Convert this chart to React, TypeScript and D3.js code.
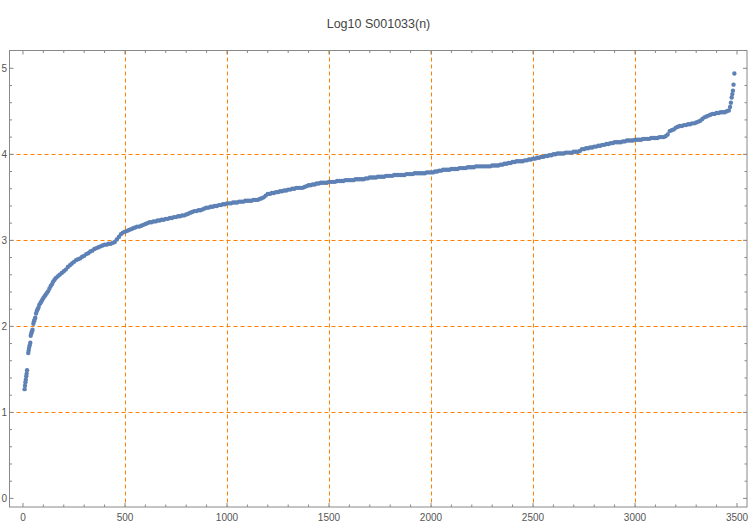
import React from "react";
import * as d3 from "d3";

// ListPlot of Log10 S001033(n); x is the term index n
const title = "Log10 S001033(n)";

// first terms: separate short dashes of dots
const earlyN = [
  8, 10, 12, 14, 16, 18, 20,
  26, 28, 30, 33, 36,
  38, 41, 44, 47, 51, 54, 57, 60, 64, 68, 72, 76, 80, 85, 90, 95, 100, 106, 112, 118, 124,
  130, 136, 142, 148, 154, 160, 170, 180, 190, 200, 210, 220, 230, 240, 250, 260, 270,
  280, 290, 300, 310, 320, 330, 340, 350, 360, 370, 380, 390, 400, 410, 420, 430, 440,
  450, 460, 470, 480, 490,
];
const earlyV = [
  1.27, 1.31, 1.35, 1.38, 1.42, 1.45, 1.49,
  1.69, 1.72, 1.75, 1.78, 1.81,
  1.89, 1.92, 1.94, 1.96, 2.03, 2.06, 2.08, 2.1, 2.15, 2.18, 2.2, 2.22, 2.25, 2.27, 2.29, 2.31, 2.33, 2.35, 2.37, 2.39, 2.41,
  2.44, 2.47, 2.49, 2.52, 2.54, 2.56, 2.58, 2.6, 2.62, 2.64, 2.66, 2.69, 2.71, 2.73, 2.75, 2.77, 2.78,
  2.79, 2.81, 2.82, 2.84, 2.85, 2.87, 2.88, 2.9, 2.91, 2.92, 2.93, 2.94, 2.95, 2.95, 2.96, 2.96, 2.97,
  2.98, 3.01, 3.04, 3.07, 3.09,
];

// every 10th term from n = 500 to n = 3460
const mainStart = 500;
const mainStep = 10;
const mainV = [
  3.1, 3.11, 3.12, 3.13, 3.14, 3.15, 3.16, 3.16, 3.17, 3.18,
  3.19, 3.2, 3.21, 3.21, 3.22, 3.22, 3.23, 3.23, 3.24, 3.24,
  3.25, 3.25, 3.26, 3.26, 3.27, 3.27, 3.28, 3.28, 3.29, 3.29,
  3.3, 3.31, 3.32, 3.33, 3.34, 3.34, 3.35, 3.35, 3.36, 3.37,
  3.38, 3.38, 3.39, 3.39, 3.4, 3.4, 3.41, 3.41, 3.42, 3.42,
  3.43, 3.43, 3.43, 3.44, 3.44, 3.44, 3.45, 3.45, 3.45, 3.46,
  3.46, 3.46, 3.46, 3.47, 3.47, 3.47, 3.48, 3.49, 3.5, 3.52,
  3.54, 3.54, 3.55, 3.55, 3.56, 3.56, 3.57, 3.57, 3.58, 3.58,
  3.59, 3.59, 3.6, 3.6, 3.61, 3.61, 3.61, 3.61, 3.62, 3.63,
  3.64, 3.64, 3.65, 3.65, 3.66, 3.66, 3.67, 3.67, 3.67, 3.67,
  3.68, 3.68, 3.68, 3.68, 3.69, 3.69, 3.69, 3.69, 3.7, 3.7,
  3.7, 3.7, 3.7, 3.71, 3.71, 3.71, 3.71, 3.71, 3.72, 3.72,
  3.73, 3.73, 3.73, 3.73, 3.74, 3.74, 3.74, 3.74, 3.75, 3.75,
  3.75, 3.75, 3.76, 3.76, 3.76, 3.76, 3.76, 3.76, 3.77, 3.77,
  3.77, 3.77, 3.78, 3.78, 3.78, 3.78, 3.78, 3.78, 3.79, 3.79,
  3.79, 3.79, 3.8, 3.8, 3.81, 3.81, 3.82, 3.82, 3.82, 3.82,
  3.83, 3.83, 3.83, 3.83, 3.84, 3.84, 3.84, 3.84, 3.85, 3.85,
  3.85, 3.85, 3.86, 3.86, 3.86, 3.86, 3.86, 3.86, 3.86, 3.86,
  3.87, 3.87, 3.87, 3.87, 3.88, 3.88, 3.89, 3.89, 3.9, 3.9,
  3.91, 3.91, 3.92, 3.92, 3.92, 3.92, 3.93, 3.93, 3.94, 3.94,
  3.95, 3.95, 3.96, 3.96, 3.97, 3.97, 3.98, 3.98, 3.99, 3.99,
  4.0, 4.0, 4.01, 4.01, 4.01, 4.01, 4.02, 4.02, 4.02, 4.02,
  4.03, 4.03, 4.03, 4.04, 4.06, 4.06, 4.07, 4.07, 4.08, 4.08,
  4.09, 4.09, 4.1, 4.1, 4.11, 4.11, 4.12, 4.12, 4.13, 4.13,
  4.14, 4.14, 4.14, 4.14, 4.15, 4.15, 4.16, 4.16, 4.16, 4.16,
  4.17, 4.17, 4.17, 4.17, 4.18, 4.18, 4.18, 4.18, 4.19, 4.19,
  4.19, 4.19, 4.2, 4.2, 4.2, 4.21, 4.23, 4.27, 4.28, 4.29,
  4.31, 4.32, 4.33, 4.33, 4.34, 4.34, 4.35, 4.35, 4.36, 4.36,
  4.37, 4.38, 4.39, 4.41, 4.43, 4.44, 4.45, 4.46, 4.47, 4.47,
  4.48, 4.48, 4.49, 4.49, 4.49, 4.5, 4.51,
];

// last few terms shoot up
const tailN = [3466, 3470, 3474, 3477, 3480, 3483, 3487];
const tailV = [4.55, 4.6, 4.66, 4.7, 4.74, 4.81, 4.94];

const xMajor = [0, 500, 1000, 1500, 2000, 2500, 3000, 3500];
const yMajor = [0, 1, 2, 3, 4, 5];
const xGrid = [500, 1000, 1500, 2000, 2500, 3000];
const yGrid = [1, 2, 3, 4];

const W = 750;
const H = 525;
const frame = { left: 9.5, right: 747, top: 50.5, bottom: 507 };

export default function App() {
  const x = d3.scaleLinear().domain([-66, 3549]).range([frame.left, frame.right]);
  const y = d3.scaleLinear().domain([-0.1, 5.207]).range([frame.bottom, frame.top]);

  const points: [number, number][] = [
    ...earlyN.map((n, i) => [n, earlyV[i]] as [number, number]),
    ...mainV.map((v, i) => [mainStart + i * mainStep, v] as [number, number]),
    ...tailN.map((n, i) => [n, tailV[i]] as [number, number]),
  ];

  const xMinor = d3.range(0, 3600, 100).filter((t) => !xMajor.includes(t));
  const yMinor = d3.range(0, 5.2, 0.2).map((t) => +t.toFixed(1)).filter((t) => !yMajor.includes(t));

  const frameColor = "#888";
  const font = "'Liberation Sans', Arial, sans-serif";

  return (
    <svg width={W} height={H} style={{ position: "absolute", left: 0, top: 0, background: "#fff" }}>
      <text x={378.5} y={28} textAnchor="middle" fontFamily={font} fontSize={12.5} fill="#444">
        {title}
      </text>

      {/* grid lines */}
      <g stroke="#ff8000" strokeWidth={1} strokeDasharray="4,3">
        {xGrid.map((t) => (
          <line key={"gx" + t} x1={Math.round(x(t)) + 0.5} x2={Math.round(x(t)) + 0.5} y1={frame.top} y2={frame.bottom} />
        ))}
        {yGrid.map((t) => (
          <line key={"gy" + t} x1={frame.left} x2={frame.right} y1={Math.round(y(t)) + 0.5} y2={Math.round(y(t)) + 0.5} />
        ))}
      </g>

      {/* points */}
      <g fill="#5e81b5">
        {points.map(([n, v], i) => (
          <circle key={i} cx={x(n)} cy={y(v)} r={2.2} />
        ))}
      </g>

      {/* frame and ticks */}
      <rect
        x={frame.left}
        y={frame.top}
        width={frame.right - frame.left}
        height={frame.bottom - frame.top}
        fill="none"
        stroke={frameColor}
        strokeWidth={1}
      />
      <g stroke={frameColor} strokeWidth={1}>
        {xMajor.map((t) => (
          <g key={"xt" + t}>
            <line x1={x(t)} x2={x(t)} y1={frame.bottom} y2={frame.bottom - 4} />
            <line x1={x(t)} x2={x(t)} y1={frame.top} y2={frame.top + 4} />
          </g>
        ))}
        {xMinor.map((t) => (
          <g key={"xm" + t}>
            <line x1={x(t)} x2={x(t)} y1={frame.bottom} y2={frame.bottom - 2.5} />
            <line x1={x(t)} x2={x(t)} y1={frame.top} y2={frame.top + 2.5} />
          </g>
        ))}
        {yMajor.map((t) => (
          <g key={"yt" + t}>
            <line x1={frame.left} x2={frame.left + 4} y1={y(t)} y2={y(t)} />
            <line x1={frame.right} x2={frame.right - 4} y1={y(t)} y2={y(t)} />
          </g>
        ))}
        {yMinor.map((t) => (
          <g key={"ym" + t}>
            <line x1={frame.left} x2={frame.left + 2.5} y1={y(t)} y2={y(t)} />
            <line x1={frame.right} x2={frame.right - 2.5} y1={y(t)} y2={y(t)} />
          </g>
        ))}
      </g>

      {/* tick labels */}
      <g fontFamily={font} fontSize={10} fill="#555">
        {xMajor.map((t) => (
          <text key={"xl" + t} x={x(t)} y={521} textAnchor="middle">
            {t}
          </text>
        ))}
        {yMajor.map((t) => (
          <text key={"yl" + t} x={7} y={y(t) + 3.5} textAnchor="end">
            {t}
          </text>
        ))}
      </g>
    </svg>
  );
}
